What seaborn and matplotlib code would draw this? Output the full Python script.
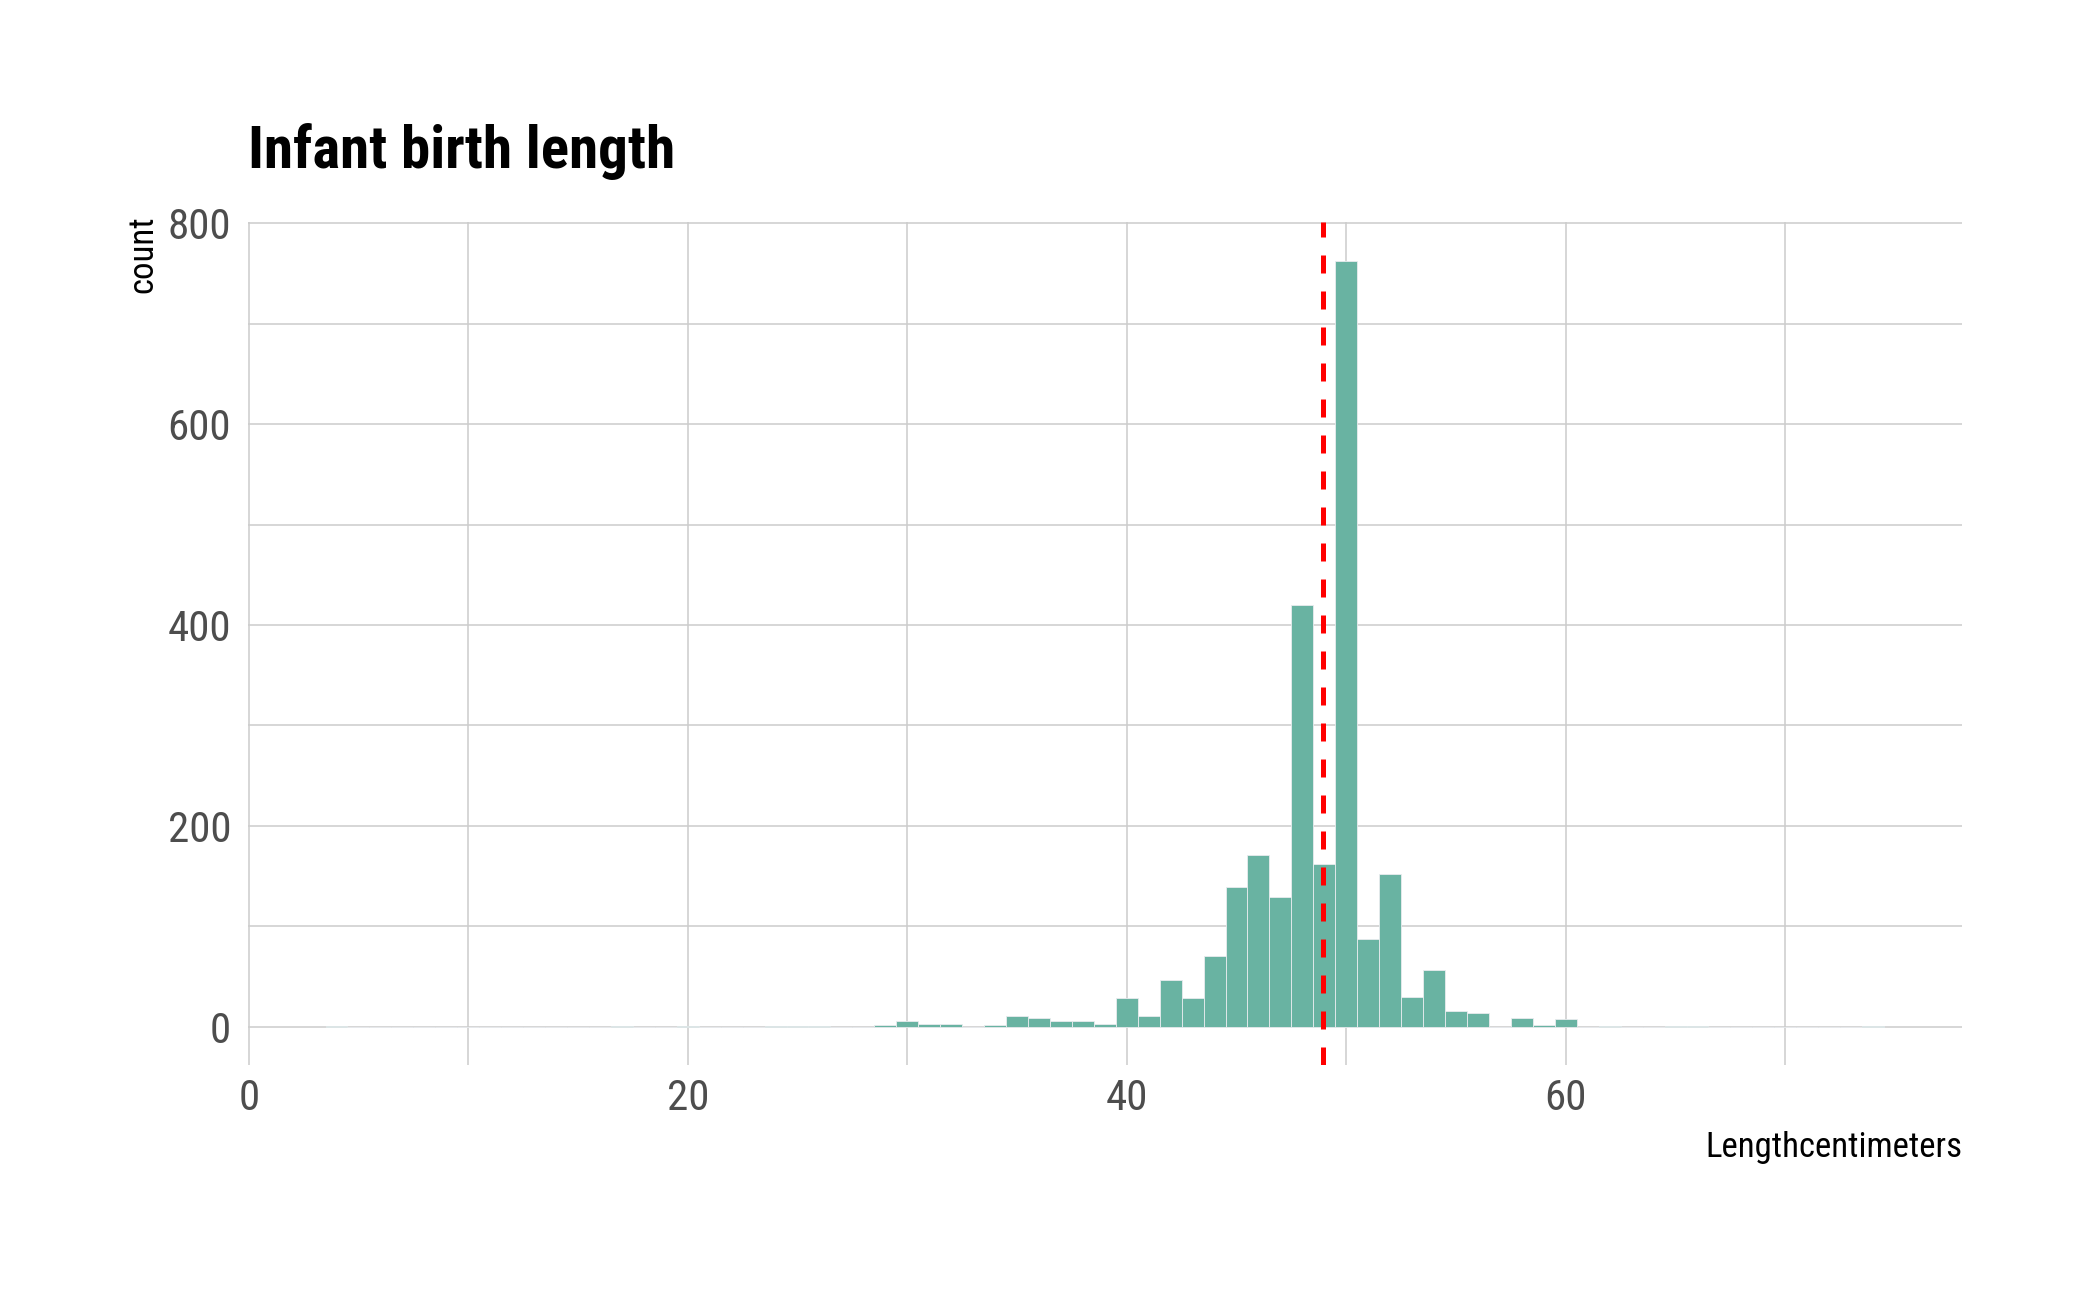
import matplotlib
matplotlib.use("Agg")
import matplotlib.pyplot as plt
from matplotlib import font_manager
import seaborn as sns
import pandas as pd

# bin centres (cm) and counts
length_cm = [4, 17, 20, 24, 25, 26, 29, 30, 31, 32, 34, 35, 36, 37, 38, 39,
             40, 41, 42, 43, 44, 45, 46, 47, 48, 49, 50, 51, 52, 53, 54, 55,
             56, 58, 59, 60, 62, 65, 66, 74]
counts = [1, 1, 1, 1, 1, 1, 2, 6, 3, 3, 2, 11, 9, 6, 6, 3,
          29, 11, 47, 29, 70, 139, 171, 129, 420, 162, 763, 87, 152, 30, 56, 16,
          14, 9, 2, 8, 1, 1, 1, 1]
mean_length = 48.96

title = "Infant birth length"
x_label = "Lengthcentimeters"
y_label = "count"

df = pd.DataFrame({"length": length_cm, "n": counts})

sns.set_theme(style="white")

installed = {f.name for f in font_manager.fontManager.ttflist}
family = "DejaVu Sans"
for cand in ["Liberation Sans Narrow", "Arial Narrow", "Roboto Condensed", "Liberation Sans"]:
    if cand in installed:
        family = cand
        break
plt.rcParams["font.family"] = [family, "DejaVu Sans"]

W, H = 2087, 1290
fig = plt.figure(figsize=(W / 100, H / 100), dpi=100)
left, right, top, bottom = 247.6, 1962.0, 222.3, 1065.0
ax = fig.add_axes([left / W, 1 - bottom / H, (right - left) / W, (bottom - top) / H])

sns.histplot(data=df, x="length", weights="n", binwidth=1, binrange=(3.5, 74.5),
             color="#69b3a2", alpha=1.0, edgecolor="#e9ecef", linewidth=0.6, ax=ax)
ax.axvline(mean_length, color="red", linewidth=3.6, linestyle=(0, (3.6, 3.6)), zorder=5)

ax.set_xlim(-0.05, 78.05)
ax.set_ylim(-0.05 * max(counts), max(counts) * 1.05)

ax.set_xticks([0, 20, 40, 60])
ax.set_xticks([10, 30, 50, 70], minor=True)
ax.set_yticks([0, 200, 400, 600, 800])
ax.set_yticks([100, 300, 500, 700], minor=True)
ax.grid(True, which="both", color="#cccccc", linewidth=1.1)
ax.set_axisbelow(True)
for s in ax.spines.values():
    s.set_visible(False)
ax.tick_params(axis="both", which="both", length=0)
ax.tick_params(axis="y", labelsize=31, labelcolor="#4d4d4d", pad=11.8)
ax.tick_params(axis="x", labelsize=31, labelcolor="#4d4d4d", pad=9.4)
ax.set_xlabel("")
ax.set_ylabel("")

fig.text(left / W, 1 - 168.3 / H, title, fontsize=42.5, fontweight="bold",
         ha="left", va="baseline", color="black")
fig.text(126.8 / W, 1 - 215 / H, y_label, fontsize=25, rotation=90,
         ha="left", va="top", color="black")
fig.text(right / W, 1 - 1157.3 / H, x_label, fontsize=25,
         ha="right", va="baseline", color="black")

plt.savefig("out.png", dpi=100)
plt.close()
